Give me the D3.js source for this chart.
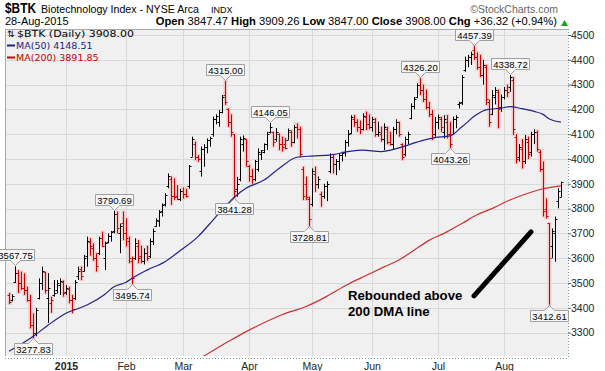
<!DOCTYPE html>
<html><head><meta charset="utf-8">
<script src="https://cdn.jsdelivr.net/npm/d3@7"></script>
<style>body{margin:0;background:#fff}svg{display:block}</style>
</head><body>
<script>
// ---------- DATA ----------
const firstDay = "2014-12-04";
const holidays = ["2014-12-25","2015-01-01","2015-01-19","2015-02-16","2015-04-03","2015-05-25","2015-07-03"];
// Daily bars [open, high, low, close]
const ohlc = [
[3450,3460,3415,3425],[3430,3455,3425,3448],[3505,3567.75,3500,3540],[3540,3552,3460,3500],[3500,3546,3472,3480],
[3480,3539,3452,3470],[3470,3485,3425,3430],[3430,3452,3317,3330],[3330,3378,3277.83,3300],[3300,3400,3285,3390],
[3440,3519,3434,3500],[3500,3566,3472,3550],[3545,3545,3458,3470],[3440,3540,3339,3480],[3420,3444,3380,3430],
[3450,3512,3445,3460],[3470,3512,3458,3500],[3490,3519,3452,3510],[3505,3510,3445,3460],
[3465,3492,3452,3480],[3475,3485,3418,3430],[3430,3452,3378,3395],[3440,3512,3432,3505],[3530,3566,3512,3550],
[3555,3566,3512,3530],[3550,3613,3546,3600],[3610,3687,3566,3670],[3665,3680,3610,3650],[3640,3660,3590,3600],
[3600,3620,3546,3570],[3620,3687,3613,3680],[3680,3707,3647,3650],[3600,3667,3552,3660],[3665,3700,3660,3690],
[3690,3710,3667,3705],[3710,3790.69,3700,3780],[3780,3788,3700,3720],[3700,3740,3620,3730],[3740,3788,3673,3700],
[3700,3761,3647,3680],[3670,3687,3580,3600],[3590,3606,3495.74,3520],[3600,3680,3593,3660],[3650,3673,3580,3600],
[3610,3650,3580,3590],[3590,3640,3575,3620],[3620,3650,3590,3600],[3610,3680,3600,3670],[3670,3720,3653,3710],
[3730,3761,3727,3755],[3750,3794,3727,3785],[3790,3821,3768,3815],[3820,3862,3808,3855],[3890,3942,3882,3930],
[3920,3929,3815,3850],[3850,3922,3835,3845],[3850,3895,3835,3838],[3840,3880,3830,3870],
[3870,3885,3840,3860],[3860,3880,3845,3850],[3890,3976,3880,3970],[4010,4090,4009,4080],[4060,4070,3996,4010],
[4010,4016,3989,4000],[3950,4050,3929,4040],[4040,4060,3969,4050],[4050,4083,4023,4075],[4075,4090,4050,4085],
[4100,4171,4090,4160],[4160,4180,4140,4175],[4150,4198,4130,4190],[4190,4258,4184,4250],[4260,4315.00,4218,4230],
[4200,4204,4130,4150],[4150,4180,4090,4110],[4100,4100,3841.28,3870],[3880,3928,3848,3900],[3920,4090,3910,4080],
[4060,4095,4030,4085],[4080,4080,3969,3990],
[3970,3976,3909,3930],[3930,3960,3900,3920],[3920,3996,3910,3990],[3960,4043,3949,4030],[4020,4036,3996,4035],
[4030,4063,4023,4060],[4060,4110,4036,4100],[4110,4146.05,4103,4130],[4110,4110,4050,4070],[4080,4125,4070,4110],
[4100,4103,4036,4060],[4060,4090,4030,4050],[4060,4085,4040,4045],[4077,4123,4077,4115],[4110,4115,4050,4070],
[4070,4137,4063,4130],[4130,4144,4083,4120],[4120,4130,4009,4020],[3960,3969,3835,3850],[3900,3929,3835,3845],
[3840,3848,3728.81,3760],
[3820,3962,3808,3950],[3940,3969,3868,3900],[3900,3930,3880,3920],[3860,3868,3808,3850],[3850,3900,3840,3890],
[3890,3910,3830,3900],[3950,4023,3942,4010],[4010,4020,3942,3980],[3980,4000,3935,3990],[3990,4023,3955,4015],
[4015,4030,3990,4025],[4030,4077,4010,4070],[4070,4117,4050,4100],[4105,4177,4100,4170],[4160,4177,4130,4150],
[4150,4160,4110,4130],[4130,4155,4100,4120],[4120,4184,4115,4175],[4170,4191,4117,4140],[4140,4180,4120,4130],
[4130,4170,4110,4160],[4150,4165,4090,4100],[4100,4150,4090,4110],[4100,4130,4070,4080],[4080,4144,4036,4130],
[4120,4130,4060,4070],[4070,4110,4055,4060],[4060,4130,4040,4120],[4120,4160,4100,4150],[4150,4150,4090,4100],
[4060,4063,3996,4010],[4020,4090,4010,4080],[4080,4110,4060,4100],[4165,4224,4160,4215],[4215,4250,4200,4240],
[4250,4305,4245,4300],[4300,4326.20,4258,4280],[4280,4300,4230,4240],[4240,4280,4200,4210],[4210,4230,4170,4180],
[4180,4198,4077,4100],[4100,4170,4090,4150],
[4150,4180,4120,4170],[4160,4170,4110,4130],[4110,4177,4083,4160],[4150,4177,4083,4100],[4100,4150,4043.26,4060],
[4100,4171,4097,4160],[4160,4177,4124,4170],[4220,4231,4204,4225],[4230,4339,4218,4330],[4360,4413,4352,4400],
[4400,4420,4370,4410],[4410,4433,4379,4425],[4440,4457.39,4400,4410],[4410,4430,4360,4370],[4370,4420,4330,4340],
[4340,4400,4300,4380],[4370,4380,4218,4240],[4230,4240,4130,4150],[4180,4278,4177,4260],[4250,4290,4220,4280],
[4270,4280,4124,4200],[4210,4260,4190,4250],
[4250,4290,4240,4280],[4280,4300,4250,4270],[4290,4338.72,4271,4330],[4320,4330,4097,4120],[4090,4100,3983,4000],
[4010,4060,3990,4050],[4040,4080,3962,3990],[3990,4097,3980,4080],[4070,4090,4000,4020],[4030,4110,4010,4100],
[4100,4120,4060,4110],[4110,4115,4030,4040],[4030,4036,3949,3960],[3960,3990,3768,3790],[3800,3841,3760,3770],
[3740,3741,3412.61,3600],[3650,3720,3600,3710],[3700,3768,3586,3760],[3830,3882,3801,3871.68],[3847.47,3909.26,3847.00,3908.00]
];
const ma50 = [
["2014-12-04",3225],["2014-12-16",3284],["2014-12-23",3330],["2015-01-02",3378],["2015-01-13",3411],["2015-01-22",3455],
["2015-01-27",3485],["2015-02-02",3503],["2015-02-04",3519],["2015-02-11",3552],["2015-02-20",3586],["2015-02-27",3630],
["2015-03-09",3687],["2015-03-13",3740],["2015-03-17",3768],["2015-03-23",3821],["2015-03-25",3845],["2015-03-31",3882],
["2015-04-09",3915],["2015-04-16",3962],["2015-04-24",4007],["2015-05-01",4012],["2015-05-11",4016],["2015-05-19",4030],
["2015-05-27",4036],["2015-06-04",4030],["2015-06-12",4045],["2015-06-22",4068],["2015-06-30",4086],["2015-07-08",4093],
["2015-07-14",4130],["2015-07-21",4180],["2015-07-24",4198],["2015-07-31",4205],["2015-08-05",4211],["2015-08-11",4203],
["2015-08-17",4192],["2015-08-20",4180],["2015-08-24",4162],["2015-08-28",4148.51]
];
const ma200 = [
["2015-03-06",3185],["2015-03-11",3206],["2015-03-17",3235],["2015-03-24",3270],["2015-04-01",3310],["2015-04-09",3340],
["2015-04-17",3372],["2015-04-29",3405],["2015-05-07",3440],["2015-05-19",3495],["2015-05-28",3530],["2015-06-05",3565],
["2015-06-12",3593],["2015-06-19",3632],["2015-06-26",3672],["2015-07-06",3700],["2015-07-14",3740],["2015-07-21",3775],
["2015-07-28",3800],["2015-08-05",3835],["2015-08-13",3862],["2015-08-20",3880],["2015-08-28",3891.85]
];
const highLabels = [3567.75,3790.69,4315.00,4146.05,4326.20,4457.39,4338.72];
const lowLabels = [3277.83,3495.74,3841.28,3728.81,4043.26,3412.61];
const yTicks = [3300,3400,3500,3600,3700,3800,3900,4000,4100,4200,4300,4400,4500];
const monthLabels = ["2015","Feb","Mar","Apr","May","Jun","Jul","Aug"];
const annotationLines = ["Rebounded above","200 DMA line"];
const annotationText = ["2015-05-19",3431];      // anchor (date, value)
const annotationStroke = [["2015-07-20",3448],["2015-08-14",3706]];

// ---------- CALENDAR ----------
function tradingDays(start, n, hol){
  const out=[]; const d=new Date(start+"T00:00:00Z");
  while(out.length<n){
    const dow=d.getUTCDay(), s=d.toISOString().slice(0,10);
    if(dow!==0 && dow!==6 && !hol.includes(s)) out.push(s);
    d.setUTCDate(d.getUTCDate()+1);
  }
  return out;
}
const dates = tradingDays(firstDay, ohlc.length, holidays);
const idxOf = s => dates.indexOf(s);

// ---------- LAYOUT ----------
const W=605,H=371;
const plot={l:5,r:568,t:29,b:356};
const FONT="'Liberation Sans', Arial, sans-serif";
const svg=d3.select("body").append("svg").attr("width",W).attr("height",H);

const x=d3.scaleLinear().domain([-4/3, ohlc.length-1+7/3]).range([plot.l,plot.r]);
const y=d3.scaleLinear().domain([3205.7,4524.2]).range([plot.b,plot.t]);

// header
const hdr=svg.append("g").attr("font-family",FONT);
hdr.append("text").attr("x",5).attr("y",13).attr("font-size",15).attr("font-weight","bold")
  .attr("textLength",31).attr("lengthAdjust","spacingAndGlyphs").text("$BTK");
hdr.append("text").attr("x",41).attr("y",13).attr("font-size",11.5)
  .attr("textLength",158).attr("lengthAdjust","spacingAndGlyphs").text("Biotechnology Index - NYSE Arca");
hdr.append("text").attr("x",211).attr("y",13).attr("font-size",9).text("INDX");
hdr.append("text").attr("x",558).attr("y",13).attr("font-size",10.5).attr("fill","#666").attr("text-anchor","end")
  .text("\u00A9StockCharts.com");
hdr.append("text").attr("x",5).attr("y",25).attr("font-size",11).text("28-Aug-2015");
const last=ohlc[ohlc.length-1], prev=ohlc[ohlc.length-2];
const chg=last[3]-prev[3];
const q=hdr.append("text").attr("x",557).attr("y",25).attr("font-size",11.2).attr("text-anchor","end");
[["Open",last[0]],["High",last[1]],["Low",last[2]],["Close",last[3]]].forEach(([k,v],j)=>{
  q.append("tspan").attr("font-weight","bold").text((j?"  ":"")+k+" ");
  q.append("tspan").text(d3.format(".2f")(v));
});
q.append("tspan").attr("font-weight","bold").text("  Chg ");
q.append("tspan").text("+"+d3.format(".2f")(chg)+" (+"+d3.format(".2f")(chg/prev[3]*100)+"%)");
hdr.append("path").attr("d","M561,26 L568,26 L564.5,20 Z").attr("fill","#1aa31a");

// plot background
svg.append("rect").attr("x",plot.l).attr("y",plot.t).attr("width",plot.r-plot.l).attr("height",plot.b-plot.t)
  .attr("fill","#f0f0f0");
svg.append("defs").append("clipPath").attr("id","clip").append("rect")
  .attr("x",plot.l).attr("y",plot.t).attr("width",plot.r-plot.l).attr("height",plot.b-plot.t);

// grid
const monthIdx=dates.map((d,i)=>i).filter(i=>i>0 && dates[i].slice(5,7)!==dates[i-1].slice(5,7));
const grid=svg.append("g").attr("stroke","#d8d8d8").attr("stroke-width",1);
yTicks.forEach(v=>grid.append("line").attr("x1",plot.l).attr("x2",plot.r)
  .attr("y1",Math.round(y(v))+0.5).attr("y2",Math.round(y(v))+0.5));
monthIdx.forEach(i=>grid.append("line").attr("y1",plot.t).attr("y2",plot.b)
  .attr("x1",Math.round(x(i))+0.5).attr("x2",Math.round(x(i))+0.5));

// borders
svg.append("path").attr("d",`M${plot.l+0.5},${plot.b} V${plot.t+0.5} H${plot.r}`).attr("fill","none").attr("stroke","#a8a8a8");
svg.append("line").attr("x1",plot.r+0.5).attr("x2",plot.r+0.5).attr("y1",plot.t).attr("y2",plot.b+2)
  .attr("stroke","#7a9a9a").attr("stroke-dasharray","1,2");
svg.append("line").attr("x1",plot.l).attr("x2",plot.r).attr("y1",plot.b+2.5).attr("y2",plot.b+2.5)
  .attr("stroke","#7a9a9a").attr("stroke-dasharray","1,2");

// y axis
const yAxis=d3.axisRight(y).tickValues(yTicks).tickSize(3).tickFormat(d3.format("d"));
const ya=svg.append("g").attr("transform",`translate(${plot.r},0)`).call(yAxis);
ya.select(".domain").remove();
ya.selectAll(".tick line").attr("stroke","#666");
ya.selectAll("text").attr("font-family",FONT).attr("font-size",10.5).attr("fill","#222").attr("x",3);

// x axis
const xAxis=d3.axisBottom(x).tickValues(monthIdx).tickSize(0).tickFormat((d,j)=>monthLabels[j]);
const xa=svg.append("g").attr("transform",`translate(0,${plot.b+2})`).call(xAxis);
xa.select(".domain").remove();
xa.selectAll("text").attr("font-family",FONT).attr("font-size",10.5).attr("fill","#222").attr("dy","0.9em")
  .attr("font-weight",(d,j)=>j===0?"bold":"normal");

// bars
const g=svg.append("g").attr("clip-path","url(#clip)");
const isUp=i=> i===0 ? ohlc[i][3]>=ohlc[i][0] : ohlc[i][3]>=ohlc[i-1][3];
const halo=g.append("g");
const bars=g.append("g");
ohlc.forEach((b,i)=>{
  const cx=Math.round(x(i))+0.5;
  const col=isUp(i)?"#000":"#cc0000";
  if(!isUp(i)){
    halo.append("line").attr("x1",cx).attr("x2",cx).attr("y1",y(b[1])-1).attr("y2",y(b[2])+1)
      .attr("stroke","#f5c8c8").attr("stroke-width",4);
  }
  bars.append("line").attr("x1",cx).attr("x2",cx).attr("y1",y(b[1])).attr("y2",y(b[2])).attr("stroke",col);
  bars.append("line").attr("x1",cx-2).attr("x2",cx).attr("y1",Math.round(y(b[0]))+0.5).attr("y2",Math.round(y(b[0]))+0.5).attr("stroke",col);
  bars.append("line").attr("x1",cx).attr("x2",cx+2).attr("y1",Math.round(y(b[3]))+0.5).attr("y2",Math.round(y(b[3]))+0.5).attr("stroke",col);
});

// moving averages
const line=d3.line().x(d=>x(idxOf(d[0]))).y(d=>y(d[1])).curve(d3.curveMonotoneX);
g.append("path").datum(ma200).attr("d",line).attr("fill","none").attr("stroke","#d03030").attr("stroke-width",1.2);
g.append("path").datum(ma50).attr("d",line).attr("fill","none").attr("stroke","#22228a").attr("stroke-width",1.2);

// legend
const lg=svg.append("g").attr("font-family","'DejaVu Sans', Verdana, sans-serif").attr("font-size",9.5);
lg.append("text").attr("x",7).attr("y",37).attr("font-size",9).text("\u21C5");
lg.append("text").attr("x",17).attr("y",37).attr("textLength",117).attr("lengthAdjust","spacingAndGlyphs")
  .text("$BTK (Daily) "+d3.format(".2f")(last[3]));
lg.append("line").attr("x1",7).attr("x2",15).attr("y1",45.5).attr("y2",45.5).attr("stroke","#22228a").attr("stroke-width",2);
lg.append("text").attr("x",16).attr("y",49).attr("fill","#22228a").text("MA(50) "+d3.format(".2f")(ma50[ma50.length-1][1]));
lg.append("line").attr("x1",7).attr("x2",15).attr("y1",57.5).attr("y2",57.5).attr("stroke","#cc0000").attr("stroke-width",2);
lg.append("text").attr("x",16).attr("y",61).attr("fill","#cc0000").text("MA(200) "+d3.format(".2f")(ma200[ma200.length-1][1]));

// value labels
const lab=svg.append("g").attr("font-family",FONT).attr("font-size",9.5);
function valueLabel(i,v,isHigh){
  const cx=Math.round(x(i))+0.5, ty=y(v);
  const bw=38,bh=11,n=5;
  let top,d;
  if(isHigh){
    const bot=Math.round(ty)-5.5; top=bot-bh;
    d=`M${cx-bw/2},${top} H${cx+bw/2} V${bot} H${cx+n} L${cx},${bot+n} L${cx-n},${bot} H${cx-bw/2} Z`;
  } else {
    top=Math.round(ty)+5.5; const bot=top+bh;
    d=`M${cx-bw/2},${top} H${cx-n} L${cx},${top-n} L${cx+n},${top} H${cx+bw/2} V${bot} H${cx-bw/2} Z`;
  }
  lab.append("path").attr("d",d).attr("fill","#f7f7f7").attr("stroke","#a0a0a0");
  lab.append("text").attr("x",cx).attr("y",top+9).attr("text-anchor","middle").text(d3.format(".2f")(v));
}
highLabels.forEach(v=>{const i=ohlc.findIndex(b=>b[1]===v); valueLabel(i,v,true);});
lowLabels.forEach(v=>{const i=ohlc.findIndex(b=>b[2]===v); valueLabel(i,v,false);});

// annotation
const ai=idxOf(annotationText[0]);
const at=svg.append("text").attr("font-family",FONT).attr("font-size",13.2).attr("font-weight","bold");
annotationLines.forEach((t,j)=>at.append("tspan").attr("x",x(ai)).attr("y",y(annotationText[1])+j*16).text(t));
svg.append("line")
  .attr("x1",x(idxOf(annotationStroke[0][0]))).attr("y1",y(annotationStroke[0][1]))
  .attr("x2",x(idxOf(annotationStroke[1][0]))).attr("y2",y(annotationStroke[1][1]))
  .attr("stroke","#000").attr("stroke-width",5).attr("stroke-linecap","round");
</script>
</body></html>
